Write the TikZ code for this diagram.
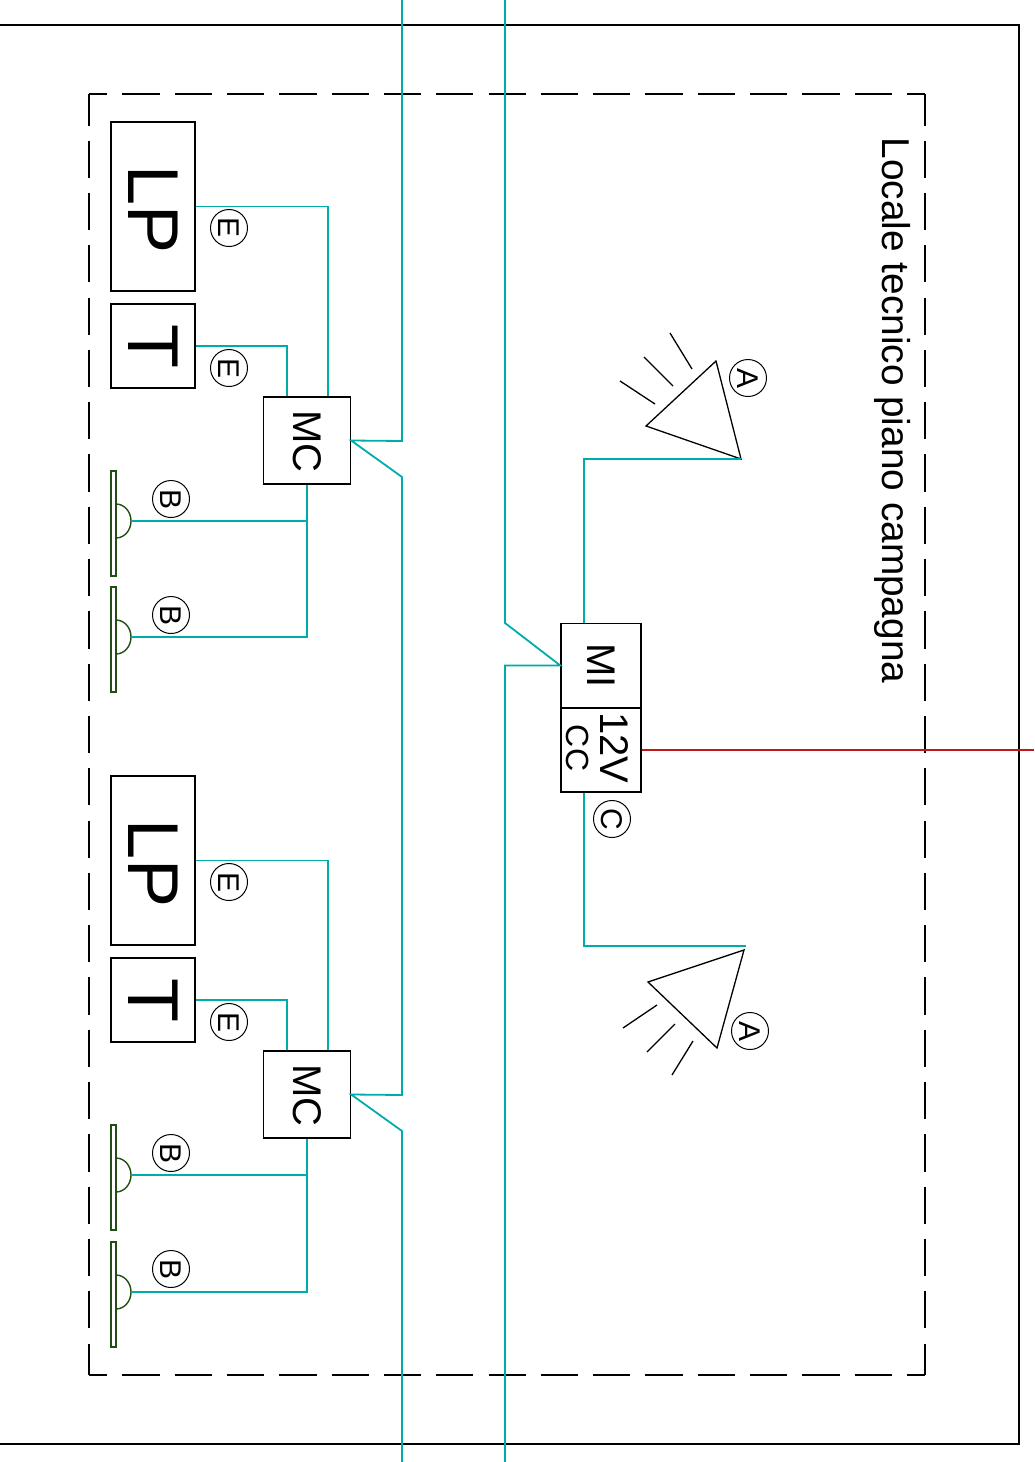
\documentclass[tikz,border=0pt]{standalone}
\usepackage{fontspec}
\setmainfont{Liberation Sans}
\definecolor{wirecol}{HTML}{00ABAB}
\definecolor{sensorcol}{HTML}{1F4F12}
\definecolor{powercol}{HTML}{C01818}
\tikzstyle{box}=[draw, inner sep=0pt, line width=1.3pt]
\tikzstyle{bubble}=[circle, draw, inner sep=0pt, minimum size=37pt, line width=1pt, font=\fontsize{30}{30}\selectfont]
\newcommand{\bubble}{\node[bubble]}
\newcommand{\rtext}[1]{\rotatebox{-90}{#1}}
\begin{document}
\begin{tikzpicture}[x=1pt, y=-1pt]
	\tikzstyle{wire}=[draw=wirecol, line width=1.8pt]
	\tikzstyle{sensorbar}=[draw=sensorcol, line width=1.3pt, fill=white, minimum width=5pt, minimum height=105pt, inner sep=0pt]
	\tikzstyle{sensorarc}=[draw=sensorcol, line width=1.4pt]
	\tikzstyle{bigbox}=[box, minimum width=84pt, minimum height=169pt, font=\fontsize{72}{72}\selectfont]
	\tikzstyle{tbox}=[box, minimum width=84pt, minimum height=84pt, font=\fontsize{72}{72}\selectfont]
	\tikzstyle{mcbox}=[box, minimum width=87pt, minimum height=87pt, font=\fontsize{40}{40}\selectfont]
	\tikzstyle{mibox}=[box, minimum width=80pt, minimum height=83.5pt, font=\fontsize{40}{40}\selectfont]
	\tikzstyle{lamp}=[draw, line width=1.3pt, line join=miter]
	\tikzstyle{hdash}=[line width=1.6pt, dash pattern=on 37.2pt off 15.1pt, dash phase=18.9pt]
	\tikzstyle{vdash}=[line width=1.6pt, dash pattern=on 37.2pt off 15.1pt, dash phase=5.7pt]
	\useasboundingbox (0,0) rectangle (1034,1462);
	% Contours
	\draw[line width=1.8pt] (0,25) -- (1019,25) -- (1019,1444) -- (0,1444);
	\draw[hdash] (89,94) -- (925,94);
	\draw[hdash] (89,1375) -- (925,1375);
	\draw[vdash] (89,94) -- (89,1375);
	\draw[vdash] (925,94) -- (925,1375);
	\node (title) at (892.5,410.5) {\rtext{\fontsize{38.8}{38.8}\selectfont Locale tecnico piano campagna}};
	% Premier groupe
	\node[bigbox] (lp1) at (153,206.5) {\rtext{\hspace{6pt}LP}};
	\node[tbox] (t1) at (153,346) {\rtext{T}};
	\node[mcbox] (mc1) at (307,440.5) {\rtext{\hspace{2pt}MC}};
	\node[sensorbar] (s1) at (113.5,523.5) {};
	\node[sensorbar] (s2) at (113.5,639.5) {};
	\draw[sensorarc] (116,504) arc (90:-90:15pt and 17pt) coordinate[midway] (s1t);
	\draw[sensorarc] (116,620) arc (90:-90:15pt and 17pt) coordinate[midway] (s2t);
	% Second groupe
	\node[bigbox] (lp2) at (153,860.5) {\rtext{\hspace{6pt}LP}};
	\node[tbox] (t2) at (153,1000) {\rtext{T}};
	\node[mcbox] (mc2) at (307,1094.5) {\rtext{\hspace{2pt}MC}};
	\node[sensorbar] (s3) at (113.5,1177.5) {};
	\node[sensorbar] (s4) at (113.5,1294.5) {};
	\draw[sensorarc] (116,1158) arc (90:-90:15pt and 17pt) coordinate[midway] (s3t);
	\draw[sensorarc] (116,1275) arc (90:-90:15pt and 17pt) coordinate[midway] (s4t);
	% Centrale
	\node[mibox] (mi) at (601,665.5) {\rtext{MI}};
	\node[mibox, anchor=north] (psu) at (mi.south) {};
	\node (v12) at (614,748) {\rtext{\fontsize{40}{40}\selectfont 12V}};
	\node (cc) at (578,748) {\rtext{\fontsize{32}{32}\selectfont CC}};
	% Sirenes
	\coordinate (a1) at (741,459);
	\coordinate (a2) at (746,946);
	\draw[lamp] (a1) -- (716,361) -- (646,426) -- cycle;
	\draw[lamp] (744,950) -- (717,1048) -- (648,982) -- cycle;
	\draw[lamp] (670,333) -- (692,369);
	\draw[lamp] (644,357) -- (673,386);
	\draw[lamp] (620,381) -- (655,404);
	\draw[lamp] (693,1041) -- (672,1075);
	\draw[lamp] (675,1024) -- (647,1052);
	\draw[lamp] (657,1005) -- (623,1028);
	% Reperes
	\bubble (ma1) at (748,378) {\rtext{A}};
	\bubble (ma2) at (750,1031) {\rtext{A}};
	\bubble (mc) at (612,819) {\rtext{C}};
	\bubble (me1) at (229,228) {\rtext{E}};
	\bubble (me2) at (229,368) {\rtext{E}};
	\bubble (me3) at (229,882) {\rtext{E}};
	\bubble (me4) at (229,1022) {\rtext{E}};
	\bubble (mb1) at (171,499) {\rtext{B}};
	\bubble (mb2) at (171,615) {\rtext{B}};
	\bubble (mb3) at (171,1153) {\rtext{B}};
	\bubble (mb4) at (171,1269) {\rtext{B}};
	% Liaisons
	\draw[wire] (lp1.east) -| ([xshift=21pt]mc1.north);
	\draw[wire] (t1.east) -| ([xshift=-20pt]mc1.north);
	\draw[wire] (mc1.south) |- (s2t);
	\draw[wire] (s1t) -- (s1t -| mc1.south);
	\draw[wire] (lp2.east) -| ([xshift=21pt]mc2.north);
	\draw[wire] (t2.east) -| ([xshift=-20pt]mc2.north);
	\draw[wire] (mc2.south) |- (s4t);
	\draw[wire] (s3t) -- (s3t -| mc2.south);
	\coordinate (bus1top) at (402,0);
	\coordinate (bus1bot) at (402,1462);
	\coordinate (bus2top) at (505,0);
	\coordinate (bus2bot) at (505,1462);
	\draw[wire] (bus1top) -- (402,441) -- (mc1.east) -- (402,477) -- (402,1095) -- (mc2.east) -- (402,1131) -- (bus1bot);
	\draw[wire] (bus2top) -- (505,623) -- (mi.west) -- (505,665.5) -- (bus2bot);
	\draw[wire] ([xshift=-17pt]mi.north) |- (a1);
	\draw[wire] ([xshift=-17pt]psu.south) |- (a2);
	\coordinate (mains) at (1034,749);
	\draw[draw=powercol, line width=2pt] (psu.east) -- (psu.east -| mains);
\end{tikzpicture}
\end{document}
